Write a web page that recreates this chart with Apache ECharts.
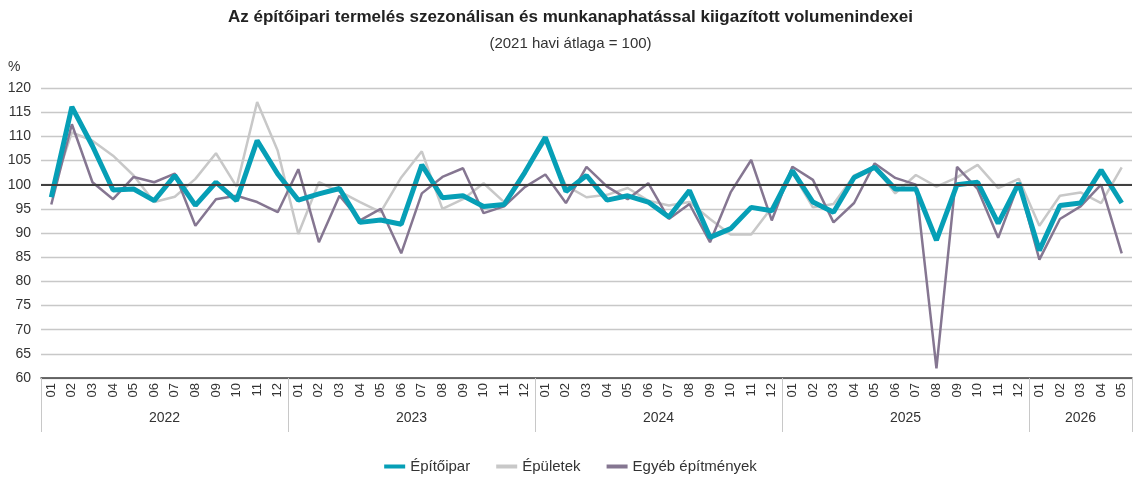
<!DOCTYPE html>
<html>
<head>
<meta charset="UTF-8">
<title>Építőipari volumenindexek</title>
<style type="text/css">
html, body {
	margin: 0;
	height: 100%;
	background: #fff;
}
#chart {
	width: 1141px;
	height: 484px;
}
</style>
</head>
<body>
	<div id="chart"></div>
</body>
<script type="text/javascript" src="https://cdn.jsdelivr.net/npm/echarts@6/dist/echarts.min.js"></script>
<script type="text/javascript">
	// hónapok (kategóriák)
	var months = [
		'2022-01', '2022-02', '2022-03', '2022-04', '2022-05', '2022-06', '2022-07', '2022-08', '2022-09', '2022-10', '2022-11', '2022-12',
		'2023-01', '2023-02', '2023-03', '2023-04', '2023-05', '2023-06', '2023-07', '2023-08', '2023-09', '2023-10', '2023-11', '2023-12',
		'2024-01', '2024-02', '2024-03', '2024-04', '2024-05', '2024-06', '2024-07', '2024-08', '2024-09', '2024-10', '2024-11', '2024-12',
		'2025-01', '2025-02', '2025-03', '2025-04', '2025-05', '2025-06', '2025-07', '2025-08', '2025-09', '2025-10', '2025-11', '2025-12',
		'2026-01', '2026-02', '2026-03', '2026-04', '2026-05'
	];
	// évek és a hozzájuk tartozó hónapok száma
	var years = [ '2022', '2023', '2024', '2025', '2026' ];
	var yearLengths = [ 12, 12, 12, 12, 5 ];

	var epitoipar = [
		97.4, 116.1, 108, 98.9, 99.1, 96.7, 101.9, 95.7, 100.5, 96.7, 109.1, 102.2,
		96.8, 98.1, 99.2, 92.2, 92.7, 91.8, 104.1, 97.3, 97.7, 95.5, 95.9, 102.5,
		109.8, 98.6, 101.9, 96.8, 97.7, 96.4, 93.3, 98.8, 89.1, 90.9, 95.3, 94.6,
		102.9, 96.4, 94.3, 101.5, 103.6, 99.1, 99.1, 88.5, 100, 100.5, 92, 100.3,
		86.4, 95.7, 96.2, 103, 96.2
	];
	var epuletek = [
		98, 110.8, 109.1, 106, 101.9, 96.4, 97.5, 101.2, 106.5, 99.6, 117.1, 107,
		89.8, 100.5, 98.6, 96.4, 94.3, 101.5, 106.9, 95, 97, 100.3, 96.4, 102.9,
		109, 99.8, 97.4, 97.9, 99.3, 96.7, 95.7, 96.4, 92.9, 89.7, 89.7, 95.3,
		102.5, 95.3, 96, 101.9, 103.7, 98.2, 102, 99.6, 101.5, 104.1, 99.3, 101.2,
		91.5, 97.7, 98.4, 96.2, 103.6
	];
	var egyeb = [
		95.9, 112.5, 100.5, 97, 101.6, 100.5, 102.3, 91.5, 97, 97.7, 96.4, 94.3,
		103.2, 88.1, 97.7, 92.6, 95, 85.8, 98.2, 101.6, 103.4, 94.1, 95.5, 99.5,
		102.1, 96.2, 103.7, 99.6, 97, 100.3, 92.9, 96, 88.1, 98.4, 105.1, 92.6,
		103.7, 101, 92.2, 96.2, 104.4, 101.4, 100, 62, 103.7, 99.1, 89, 100.3,
		84.5, 92.9, 95.5, 100, 85.8
	];

	// évhatárok és évközepek a második x tengelyhez
	var yearBounds = [ 0 ];
	var yearMids = [];
	for (var i = 0; i < yearLengths.length; i++) {
		var start = yearBounds[i];
		yearBounds.push(start + yearLengths[i]);
		yearMids.push(start + yearLengths[i] / 2);
	}

	var font = 'Liberation Sans, Arial, sans-serif';
	var chart = echarts.init(document.getElementById('chart'));

	var option = {
		animation : false,
		textStyle : {
			fontFamily : font
		},
		title : [ {
			text : 'Az építőipari termelés szezonálisan és munkanaphatással kiigazított volumenindexei',
			subtext : '(2021 havi átlaga = 100)',
			left : 'center',
			top : 4,
			itemGap : 10,
			textStyle : {
				fontSize : 17,
				fontWeight : 'bold',
				color : '#222',
				fontFamily : font
			},
			subtextStyle : {
				fontSize : 15,
				color : '#333',
				fontFamily : font
			}
		}, {
			text : '%',
			left : 3,
			top : 55,
			textStyle : {
				fontSize : 14,
				fontWeight : 'normal',
				color : '#333',
				fontFamily : font
			}
		} ],
		legend : {
			bottom : 5,
			left : 'center',
			itemGap : 26,
			itemWidth : 21,
			itemHeight : 4,
			icon : 'rect',
			textStyle : {
				fontSize : 15,
				color : '#333'
			},
			data : [ 'Építőipar', 'Épületek', 'Egyéb építmények' ]
		},
		grid : {
			left : 41,
			right : 9,
			top : 88,
			bottom : 106
		},
		xAxis : [ {
			type : 'category',
			data : months,
			boundaryGap : true,
			axisLine : {
				lineStyle : {
					color : '#404040',
					width : 1.5
				}
			},
			axisTick : {
				interval : 0,
				length : 26,
				lineStyle : {
					color : '#c8c8c8'
				}
			},
			axisLabel : {
				interval : 0,
				rotate : 90,
				margin : 5,
				fontSize : 13,
				color : '#333',
				formatter : function(v) {
					return v.slice(5);
				}
			}
		}, {
			// évek sora
			type : 'value',
			position : 'bottom',
			min : 0,
			max : months.length,
			axisLine : {
				show : false
			},
			splitLine : {
				show : false
			},
			axisTick : {
				show : true,
				customValues : yearBounds,
				length : 54,
				lineStyle : {
					color : '#c8c8c8'
				}
			},
			axisLabel : {
				customValues : yearMids,
				margin : 33,
				fontSize : 14,
				color : '#333',
				formatter : function(v) {
					var idx = yearMids.indexOf(v);
					return idx >= 0 ? years[idx] : '';
				}
			}
		} ],
		yAxis : {
			type : 'value',
			min : 60,
			max : 120,
			interval : 5,
			axisLine : {
				show : false
			},
			axisTick : {
				show : false
			},
			axisLabel : {
				margin : 10,
				fontSize : 14,
				color : '#333'
			},
			splitLine : {
				lineStyle : {
					color : '#c8c8c8',
					width : 1.3
				}
			}
		},
		series : [ {
			name : 'Épületek',
			type : 'line',
			data : epuletek,
			symbol : 'none',
			color : '#c8c8c8',
			lineStyle : {
				width : 2.5
			},
			z : 2,
			markLine : {
				silent : true,
				symbol : 'none',
				label : {
					show : false
				},
				lineStyle : {
					color : '#404040',
					type : 'solid',
					width : 2
				},
				data : [ {
					yAxis : 100
				} ]
			}
		}, {
			name : 'Egyéb építmények',
			type : 'line',
			data : egyeb,
			symbol : 'none',
			color : '#857691',
			lineStyle : {
				width : 2.5
			},
			z : 3
		}, {
			name : 'Építőipar',
			type : 'line',
			data : epitoipar,
			symbol : 'none',
			color : '#069fb6',
			lineStyle : {
				width : 5
			},
			z : 4
		} ]
	};

	chart.setOption(option);
</script>
</html>
